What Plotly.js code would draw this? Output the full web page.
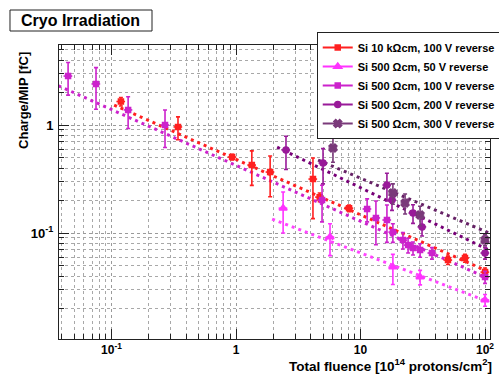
<!DOCTYPE html>
<html>
<head>
<meta charset="utf-8">
<script src="https://cdn.plot.ly/plotly-3.0.1.min.js"></script>
<style>html,body{margin:0;padding:0;background:#fff;}#chart{width:499px;height:374px;}</style>
</head>
<body>
<div id="chart"></div>
<script>
// ---- data ----
const seriesNames = [
  'Si 10 kΩcm, 100 V reverse',
  'Si 500 Ωcm, 50 V reverse',
  'Si 500 Ωcm, 100 V reverse',
  'Si 500 Ωcm, 200 V reverse',
  'Si 500 Ωcm, 300 V reverse'
];

// Si 10 kOhm cm, 100 V
const x10k100 = [0.119, 0.342, 0.93, 1.34, 1.88, 4.15, 4.7, 8.09, 50.4, 69, 100];
const y10k100 = [1.65, 0.96, 0.506, 0.426, 0.367, 0.316, 0.215, 0.170, 0.0562, 0.0587, 0.0435];
const e10k100 = [0.15, 0.23, 0.03, 0.15, 0.15, 0.18, 0.02, 0.012, 0.005, 0.005, 0.004];

// Si 500 Ohm cm, 50 V
const x500_50 = [2.39, 5.69, 18.2, 30.1, 100];
const y500_50 = [0.170, 0.0918, 0.0484, 0.0391, 0.024];
const e500_50 = [0.07, 0.03, 0.015, 0.006, 0.003];

// Si 500 Ohm cm, 100 V
const x500_100 = [0.0448, 0.0751, 0.136, 0.269, 4.91, 11.3, 13.3, 16.3, 18.2, 21.9, 24.1, 26.4, 30.1, 37.5, 100];
const y500_100 = [2.84, 2.40, 1.38, 1.00, 0.202, 0.167, 0.138, 0.132, 0.102, 0.0861, 0.0774, 0.0726, 0.0696, 0.0653, 0.0392];
const e500_100 = [0.95, 1.0, 0.45, 0.38, 0.075, 0.04, 0.06, 0.05, 0.02, 0.015, 0.012, 0.01, 0.01, 0.008, 0.005];

// Si 500 Ohm cm, 200 V
const x500_200 = [2.52, 5.0, 16.3, 17.9, 26.4, 31.2, 100];
const y500_200 = [0.587, 0.445, 0.278, 0.202, 0.153, 0.114, 0.0653];
const e500_200 = [0.2, 0.16, 0.08, 0.04, 0.03, 0.02, 0.008];

// Si 500 Ohm cm, 300 V
const x500_300 = [6.01, 18.2, 22.8, 30.1, 100];
const y500_300 = [0.612, 0.235, 0.190, 0.147, 0.0861];
const e500_300 = [0.16, 0.05, 0.04, 0.03, 0.01];

// power-law fits: y = norm * x^slope over [xmin, xmax]
const fitNorm  = [0.481, 0.181, 0.423, 0.955, 1.0];
const fitSlope = [-0.513, -0.441, -0.517, -0.560, -0.492];
const fitXmin  = [0.105, 1.95, 0.0375, 2.14, 4.56];
const fitXmax  = [106, 106, 106, 106, 106];

const xTickVals = [0.1, 1, 10, 100];
const xTickText = ['10<sup>-1</sup>', '1', '10', '10<sup>2</sup>'];
const yTickVals = [0.1, 1];
const yTickText = ['10<sup>-1</sup>', '1'];

// ---- styles ----
const colors = ['#ff2020', '#ff33ff', '#cc22cc', '#991a99', '#7a3a7a'];
const fitColors = ['#ff2020', '#ff44ff', '#cc22cc', '#770077', '#662266'];
const symbols = ['square', 'triangle-up', 'square', 'circle', 'x'];
const msizes = [5, 7, 5, 6, 7];

const xs = [x10k100, x500_50, x500_100, x500_200, x500_300];
const ys = [y10k100, y500_50, y500_100, y500_200, y500_300];
const es = [e10k100, e500_50, e500_100, e500_200, e500_300];

const traces = [];
// fit lines
for (let i = 0; i < 5; i++) {
  const fx = [fitXmin[i], fitXmax[i]];
  const fy = fx.map(v => fitNorm[i] * Math.pow(v, fitSlope[i]));
  traces.push({
    x: fx, y: fy, mode: 'lines', showlegend: false, hoverinfo: 'skip',
    line: {color: fitColors[i], width: 3, dash: '3px,4px'}
  });
}
// data points
for (let i = 0; i < 5; i++) {
  traces.push({
    x: xs[i], y: ys[i], mode: 'markers', showlegend: false, name: seriesNames[i],
    marker: {color: colors[i], symbol: symbols[i], size: msizes[i], line: {color: colors[i], width: 1.5}},
    error_y: {type: 'data', array: es[i], color: colors[i], thickness: 1.6, width: 2},
    error_x: {type: 'percent', value: 8, color: colors[i], thickness: 1.6, width: 0}
  });
}
// legend entries (line + marker sample)
for (let i = 0; i < 5; i++) {
  traces.push({
    x: [null], y: [null], mode: 'lines+markers', name: seriesNames[i], showlegend: true,
    line: {color: colors[i], width: 2},
    marker: {color: colors[i], symbol: symbols[i], size: msizes[i], line: {color: colors[i], width: 1.5}}
  });
}

function minorVals(lo, hi) {
  const out = [];
  for (let e = lo; e < hi; e++) {
    for (let d = 2; d <= 9; d++) out.push(d * Math.pow(10, e));
  }
  return out;
}

const font = 'Liberation Sans, Arial, sans-serif';
const axisCommon = {
  type: 'log', showline: true, linecolor: '#222', linewidth: 1, mirror: 'ticks',
  ticks: 'inside', ticklen: 10, tickwidth: 1, tickcolor: '#222',
  showgrid: true, gridcolor: '#9a9a9a', griddash: 'dot', gridwidth: 1,
  zeroline: false, tickmode: 'array',
  tickfont: {family: font, size: 13, color: '#000', weight: 'bold'}
};

const layout = {
  width: 499, height: 374,
  margin: {l: 59, r: 9, t: 45, b: 35, autoexpand: false},
  paper_bgcolor: '#fff', plot_bgcolor: '#fff',
  showlegend: true,
  xaxis: Object.assign({}, axisCommon, {
    range: [-1.4217, 2.040], tickvals: xTickVals, ticktext: xTickText,
    tickfont: {family: font, size: 12, color: '#000', weight: 'bold'},
    minor: {tickmode: 'array', tickvals: minorVals(-2, 2), ticks: 'inside', ticklen: 5, tickcolor: '#222',
            showgrid: true, gridcolor: '#a8a8a8', griddash: 'dot', gridwidth: 1}
  }),
  yaxis: Object.assign({}, axisCommon, {
    range: [-1.981, 0.741], tickvals: yTickVals, ticktext: yTickText, ticklabelstandoff: 2,
    minor: {tickmode: 'array', tickvals: minorVals(-2, 1), ticks: 'inside', ticklen: 5, tickcolor: '#222',
            showgrid: true, gridcolor: '#a8a8a8', griddash: 'dot', gridwidth: 1}
  }),
  legend: {
    x: 0.598, y: 1.044, xanchor: 'left', yanchor: 'top',
    bgcolor: '#fff', bordercolor: '#222', borderwidth: 1,
    font: {family: font, size: 11, color: '#000', weight: 'bold'},
    itemwidth: 30, tracegroupgap: 0
  },
  shapes: [{
    type: 'rect', xref: 'paper', yref: 'paper',
    x0: -0.1137, x1: 0.2158, y0: 1.0476, y1: 1.119,
    line: {color: '#222', width: 1}, fillcolor: '#fff'
  }],
  annotations: [
    {text: 'Cryo Irradiation', xref: 'paper', yref: 'paper', x: 0.051, y: 1.0833,
     xanchor: 'center', yanchor: 'middle', showarrow: false,
     font: {family: font, size: 16, color: '#000', weight: 'bold'}},
    {text: 'Total fluence [10<sup>14</sup> protons/cm<sup>2</sup>]', xref: 'paper', yref: 'paper',
     x: 1.01, y: -0.087, xanchor: 'right', yanchor: 'middle', showarrow: false,
     font: {family: font, size: 13.5, color: '#000', weight: 'bold'}},
    {text: 'Charge/MIP [fC]', xref: 'paper', yref: 'paper', x: -0.081, y: 0.81,
     xanchor: 'center', yanchor: 'middle', textangle: -90, showarrow: false,
     font: {family: font, size: 13, color: '#000', weight: 'bold'}}
  ]
};

Plotly.newPlot('chart', traces, layout, {displayModeBar: false, staticPlot: true});
</script>
</body>
</html>
